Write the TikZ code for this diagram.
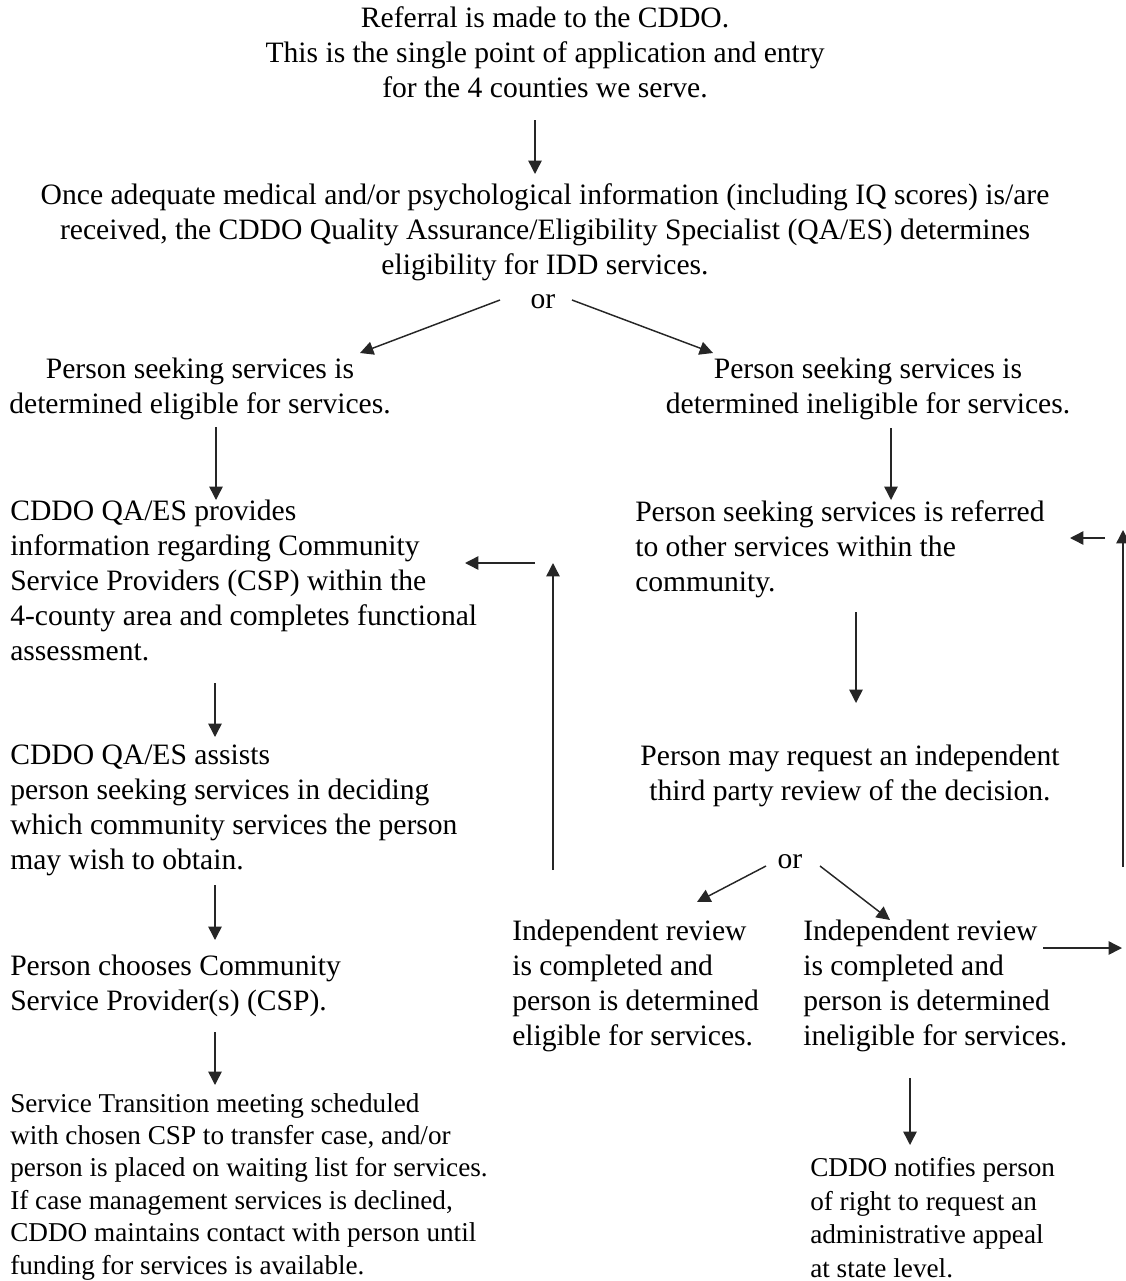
\documentclass[tikz,border=0pt]{standalone}
\usepackage{fontspec}
\setmainfont{Liberation Serif}
\usetikzlibrary{arrows.meta}
\begin{document}
\begin{tikzpicture}[x=0.75pt, y=-0.75pt,
  ctext/.style={inner sep=0pt, anchor=north, align=center, font=\fontsize{22.2}{26.25}\selectfont},
  ltext/.style={inner sep=0pt, anchor=north west, align=left, font=\fontsize{22.2}{26.25}\selectfont},
  stext/.style={ltext, font=\fontsize{20.4}{24.3}\selectfont},
  arr/.style={-{Triangle[length=10pt, width=10pt]}, line width=1.1pt, draw=black!85}]
\useasboundingbox (0,0) rectangle (1125,1281);
% text blocks
\node[ctext] (referral) at (545,6) {Referral is made to the CDDO.\\ This is the single point of application and entry\\ for the 4 counties we serve.};
\node[ctext] (determines) at (545,183) {Once adequate medical and/or psychological information (including IQ scores) is/are\\ received, the CDDO Quality Assurance/Eligibility Specialist (QA/ES) determines\\ eligibility for IDD services.};
\node[inner sep=0pt, font=\fontsize{22.2}{26.25}\selectfont] (or1) at (543,302) {or};
\node[ctext] (eligible) at (200,358) {Person seeking services is\\ determined eligible for services.};
\node[ctext] (ineligible) at (868,358) {Person seeking services is\\ determined ineligible for services.};
\node[ltext] (provides) at (10,500) {CDDO QA/ES provides\\ information regarding Community\\ Service Providers (CSP) within the\\ 4-county area and completes functional\\ assessment.};
\node[ltext] (referred) at (635,500) {Person seeking services is referred\\ to other services within the\\ community.};
\node[ltext] (assists) at (10,745) {CDDO QA/ES assists\\ person seeking services in deciding\\ which community services the person\\ may wish to obtain.};
\node[ctext] (request) at (850,745) {Person may request an independent\\ third party review of the decision.};
\node[inner sep=0pt, font=\fontsize{22.2}{26.25}\selectfont] (or2) at (790,862) {or};
\node[ltext] (chooses) at (10,955) {Person chooses Community\\ Service Provider(s) (CSP).};
\node[ltext] (revelig) at (512,920) {Independent review\\ is completed and\\ person is determined\\ eligible for services.};
\node[ltext] (revinelig) at (803,920) {Independent review\\ is completed and\\ person is determined\\ ineligible for services.};
\node[stext] (transition) at (10,1093) {Service Transition meeting scheduled\\ with chosen CSP to transfer case, and/or\\ person is placed on waiting list for services.\\ If case management services is declined,\\ CDDO maintains contact with person until\\ funding for services is available.};
\node[stext, font=\fontsize{20.4}{25.2}\selectfont] (notifies) at (810,1157) {CDDO notifies person\\ of right to request an\\ administrative appeal\\ at state level.};
% arrow ends
\coordinate (a1) at (535,120);   \coordinate (b1) at (535,174);
\coordinate (a2) at (500,300);   \coordinate (b2) at (360,353);
\coordinate (a3) at (572,300);   \coordinate (b3) at (713,353);
\coordinate (a4) at (216,427);   \coordinate (b4) at (216,500);
\coordinate (a5) at (891,428);   \coordinate (b5) at (891,500);
\coordinate (a6) at (535,563);   \coordinate (b6) at (465,563);
\coordinate (a7) at (553,870);   \coordinate (b7) at (553,563);
\coordinate (a8) at (1105,538);  \coordinate (b8) at (1070,538);
\coordinate (a9) at (1123,867);  \coordinate (b9) at (1123,530);
\coordinate (a10) at (856,612);  \coordinate (b10) at (856,703);
\coordinate (a11) at (215,683);  \coordinate (b11) at (215,737);
\coordinate (a12) at (766,866);  \coordinate (b12) at (697,902);
\coordinate (a13) at (820,866);  \coordinate (b13) at (890,920);
\coordinate (a14) at (215,885);  \coordinate (b14) at (215,940);
\coordinate (a15) at (1043,948); \coordinate (b15) at (1122,948);
\coordinate (a16) at (910,1078); \coordinate (b16) at (910,1145);
\coordinate (a17) at (215,1032); \coordinate (b17) at (215,1085);
\foreach \i in {1,...,17}
  \draw[arr] (a\i) -- (b\i);
\end{tikzpicture}
\end{document}
